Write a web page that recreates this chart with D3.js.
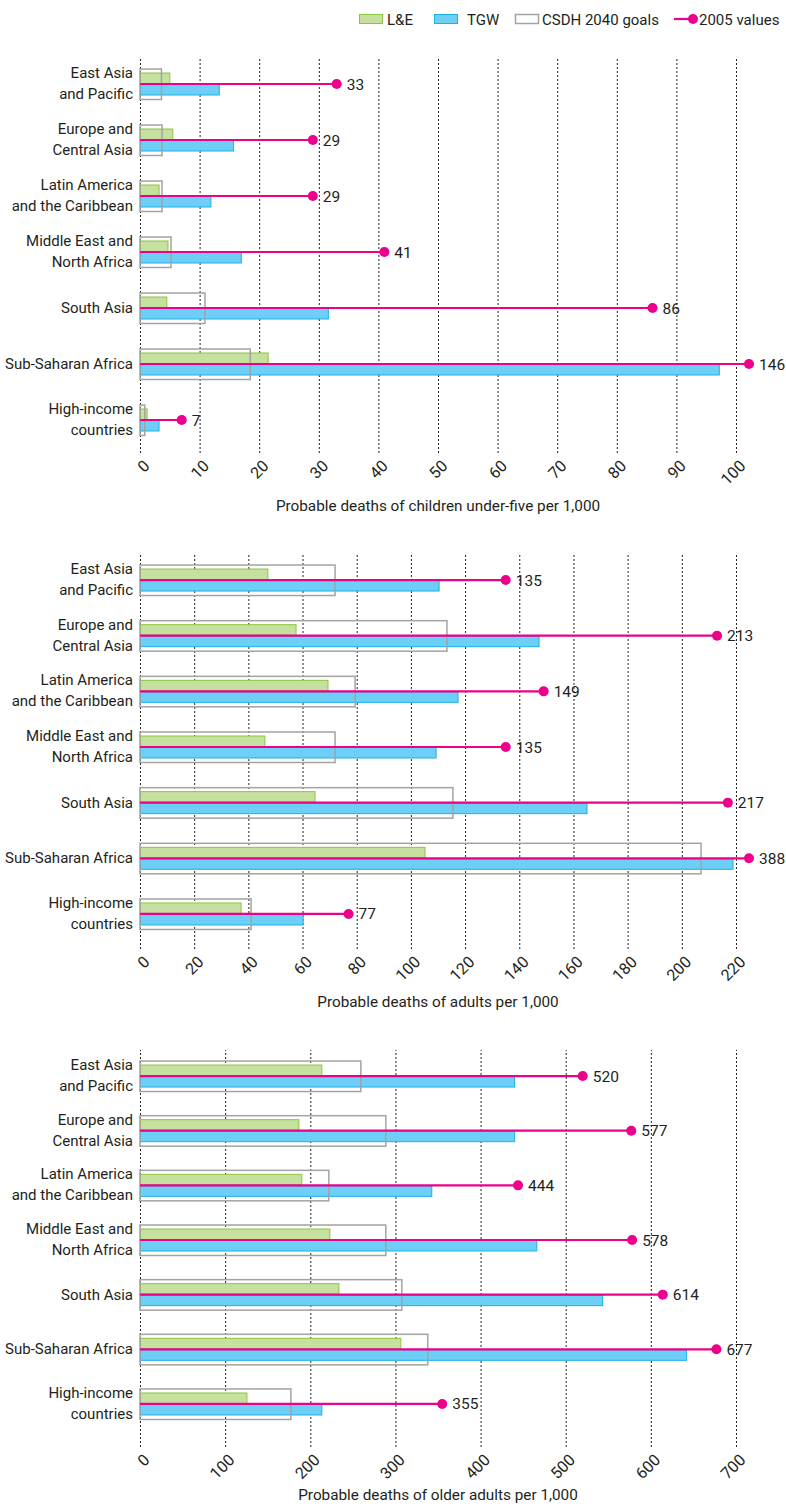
<!DOCTYPE html>
<html>
<head>
<meta charset="utf-8">
<title>Probable deaths by region</title>
<style>
  body { margin: 0; background: #fff; }
  text { font-family: Roboto, "Noto Sans", sans-serif; fill: #231f20; }
  .grid line { stroke: #222; stroke-dasharray: 2,2; stroke-width: 1; }
  .le { fill: #c6e0a0; stroke: #8cc63f; stroke-width: 1; }
  .tgw { fill: #6dcff6; stroke: #1cb0e8; stroke-width: 1; }
  .csdh { fill: none; stroke: #a3a3a3; stroke-width: 1.5; }
  .line2005 { stroke: #ec008c; stroke-width: 2.2; }
  .dot2005 { fill: #ec008c; }
</style>
<script src="https://d3js.org/d3.v7.min.js"></script>
</head>
<body>
<div id="chart"></div>
<script>
// data
var regions = ["East Asia\nand Pacific", "Europe and\nCentral Asia", "Latin America\nand the Caribbean",
  "Middle East and\nNorth Africa", "South Asia", "Sub-Saharan Africa", "High-income\ncountries"];
var seriesNames = ["L&E", "TGW", "CSDH 2040 goals", "2005 values"];

// children under five
var childLE = [5.0, 5.5, 3.2, 4.7, 4.5, 21.5, 1.2];
var childTGW = [13.3, 15.7, 11.9, 17.0, 31.6, 97.2, 3.2];
var childCSDH = [3.6, 3.7, 3.7, 5.2, 10.9, 18.5, 0.8];
var child2005 = [33, 29, 29, 41, 86, 146, 7];
var childTicks = [0, 10, 20, 30, 40, 50, 60, 70, 80, 90, 100];

// adults
var adultLE = [47.2, 57.6, 69.4, 46.1, 64.6, 105.2, 37.3];
var adultTGW = [110.4, 147.3, 117.4, 109.3, 165, 218.9, 60.2];
var adultCSDH = [72, 113.3, 79.4, 72, 115.5, 207.1, 41];
var adult2005 = [135, 213, 149, 135, 217, 388, 77];
var adultTicks = [0, 20, 40, 60, 80, 100, 120, 140, 160, 180, 200, 220];

// older adults
var olderLE = [213.6, 186.6, 190, 223, 233.6, 306.3, 125.6];
var olderTGW = [440, 440, 342.7, 466, 543.4, 642, 213.6];
var olderCSDH = [259.4, 288.7, 221.8, 288.7, 307.5, 338, 177.2];
var older2005 = [520, 577, 444, 578, 614, 677, 355];
var olderTicks = [0, 100, 200, 300, 400, 500, 600, 700];

var titles = ["Probable deaths of children under-five per 1,000",
  "Probable deaths of adults per 1,000",
  "Probable deaths of older adults per 1,000"];

var W = 786, H = 1506;
var x0 = 140, x1 = 736, xClip = 749;

var panels = [
  { le: childLE, tgw: childTGW, csdh: childCSDH, v: child2005, ticks: childTicks, title: titles[0],
    top: 56, bottom: 448, gridTop: 58, gridBottom: 453, titleY: 511 },
  { le: adultLE, tgw: adultTGW, csdh: adultCSDH, v: adult2005, ticks: adultTicks, title: titles[1],
    top: 552.2, bottom: 941.8, gridTop: 554, gridBottom: 949, titleY: 1007 },
  { le: olderLE, tgw: olderTGW, csdh: olderCSDH, v: older2005, ticks: olderTicks, title: titles[2],
    top: 1048.7, bottom: 1431.3, gridTop: 1050, gridBottom: 1447, titleY: 1500 }
];

var svg = d3.select("#chart").append("svg")
  .attr("width", W)
  .attr("height", H);

// legend
var legend = svg.append("g").attr("class", "legend");
var legX = [359, 434, 515, 674];
var legTextX = [387, 467, 542, 699];
var legClass = ["le", "tgw", "csdh", "line"];
seriesNames.forEach(function(name, i) {
  if (legClass[i] == "line") {
    legend.append("line").attr("class", "line2005")
      .attr("x1", legX[i]).attr("x2", legX[i] + 19)
      .attr("y1", 19).attr("y2", 19);
    legend.append("circle").attr("class", "dot2005")
      .attr("cx", legX[i] + 19).attr("cy", 19).attr("r", 5);
  } else {
    legend.append("rect").attr("class", legClass[i])
      .attr("x", legX[i] + 0.5).attr("y", 14.5)
      .attr("width", 23).attr("height", 9);
  }
  legend.append("text")
    .attr("x", legTextX[i]).attr("y", 24.5)
    .style("font-size", "15px")
    .text(name);
});

panels.forEach(function(p) {
  var g = svg.append("g");
  var max = p.ticks[p.ticks.length - 1];

  var x = d3.scaleLinear().domain([0, max]).range([x0, x1]);
  var xMax = x.invert(xClip);

  var y = d3.scaleBand().domain(regions).range([p.top, p.bottom]);
  var inner = d3.scaleBand().domain(["le", "tgw"]).range([-11.5, 11.5]);

  // grid / axis
  var axis = g.append("g")
    .attr("class", "grid")
    .attr("transform", "translate(0," + p.gridBottom + ")")
    .call(d3.axisBottom(x).tickValues(p.ticks).tickSize(-(p.gridBottom - p.gridTop)).tickPadding(0));
  axis.select(".domain").remove();
  axis.selectAll("text")
    .attr("x", 0).attr("y", 0).attr("dy", 0)
    .style("text-anchor", "end")
    .style("font-size", "16px")
    .attr("fill", "#231f20")
    .attr("transform", "translate(10,14) rotate(-45)");
  axis.attr("font-family", null).attr("font-size", null);

  g.append("text")
    .attr("x", (x0 + x1) / 2)
    .attr("y", p.titleY)
    .attr("text-anchor", "middle")
    .style("font-size", "15.3px")
    .text(p.title);

  var rows = regions.map(function(r, i) {
    return { region: r, le: p.le[i], tgw: p.tgw[i], csdh: p.csdh[i], v: p.v[i] };
  });

  var row = g.selectAll(".row")
    .data(rows)
    .enter().append("g")
    .attr("class", "row")
    .attr("transform", function(d) { return "translate(0," + (y(d.region) + y.bandwidth() / 2) + ")"; });

  // region labels
  row.append("text")
    .attr("x", 133)
    .attr("text-anchor", "end")
    .style("font-size", "15px")
    .each(function(d) {
      var lines = d.region.split("\n");
      var t = d3.select(this);
      lines.forEach(function(l, k) {
        t.append("tspan")
          .attr("x", 133)
          .attr("y", lines.length == 1 ? 5 : (k == 0 ? -6 : 15))
          .text(l);
      });
    });

  row.append("rect").attr("class", "le")
    .attr("x", x(0) + 0.5)
    .attr("y", inner("le") + 0.5)
    .attr("width", function(d) { return Math.max(0, x(d.le) - x(0) - 0.5); })
    .attr("height", inner.bandwidth() - 1);

  row.append("rect").attr("class", "tgw")
    .attr("x", x(0) + 0.5)
    .attr("y", inner("tgw") + 0.5)
    .attr("width", function(d) { return Math.max(0, x(d.tgw) - x(0) - 0.5); })
    .attr("height", inner.bandwidth() - 1);

  row.append("rect").attr("class", "csdh")
    .attr("x", x(0))
    .attr("y", -15)
    .attr("width", function(d) { return x(d.csdh) - x(0); })
    .attr("height", 30.5);

  row.append("line").attr("class", "line2005")
    .attr("x1", x(0))
    .attr("x2", function(d) { return x(Math.min(d.v, xMax)); })
    .attr("y1", 0).attr("y2", 0);

  row.append("circle").attr("class", "dot2005")
    .attr("cx", function(d) { return x(Math.min(d.v, xMax)); })
    .attr("cy", 0)
    .attr("r", 5);

  row.append("text")
    .attr("x", function(d) { return x(Math.min(d.v, xMax)) + 10; })
    .attr("y", 5.5)
    .style("font-size", "15.5px")
    .text(function(d) { return d.v; });
});
</script>
</body>
</html>
